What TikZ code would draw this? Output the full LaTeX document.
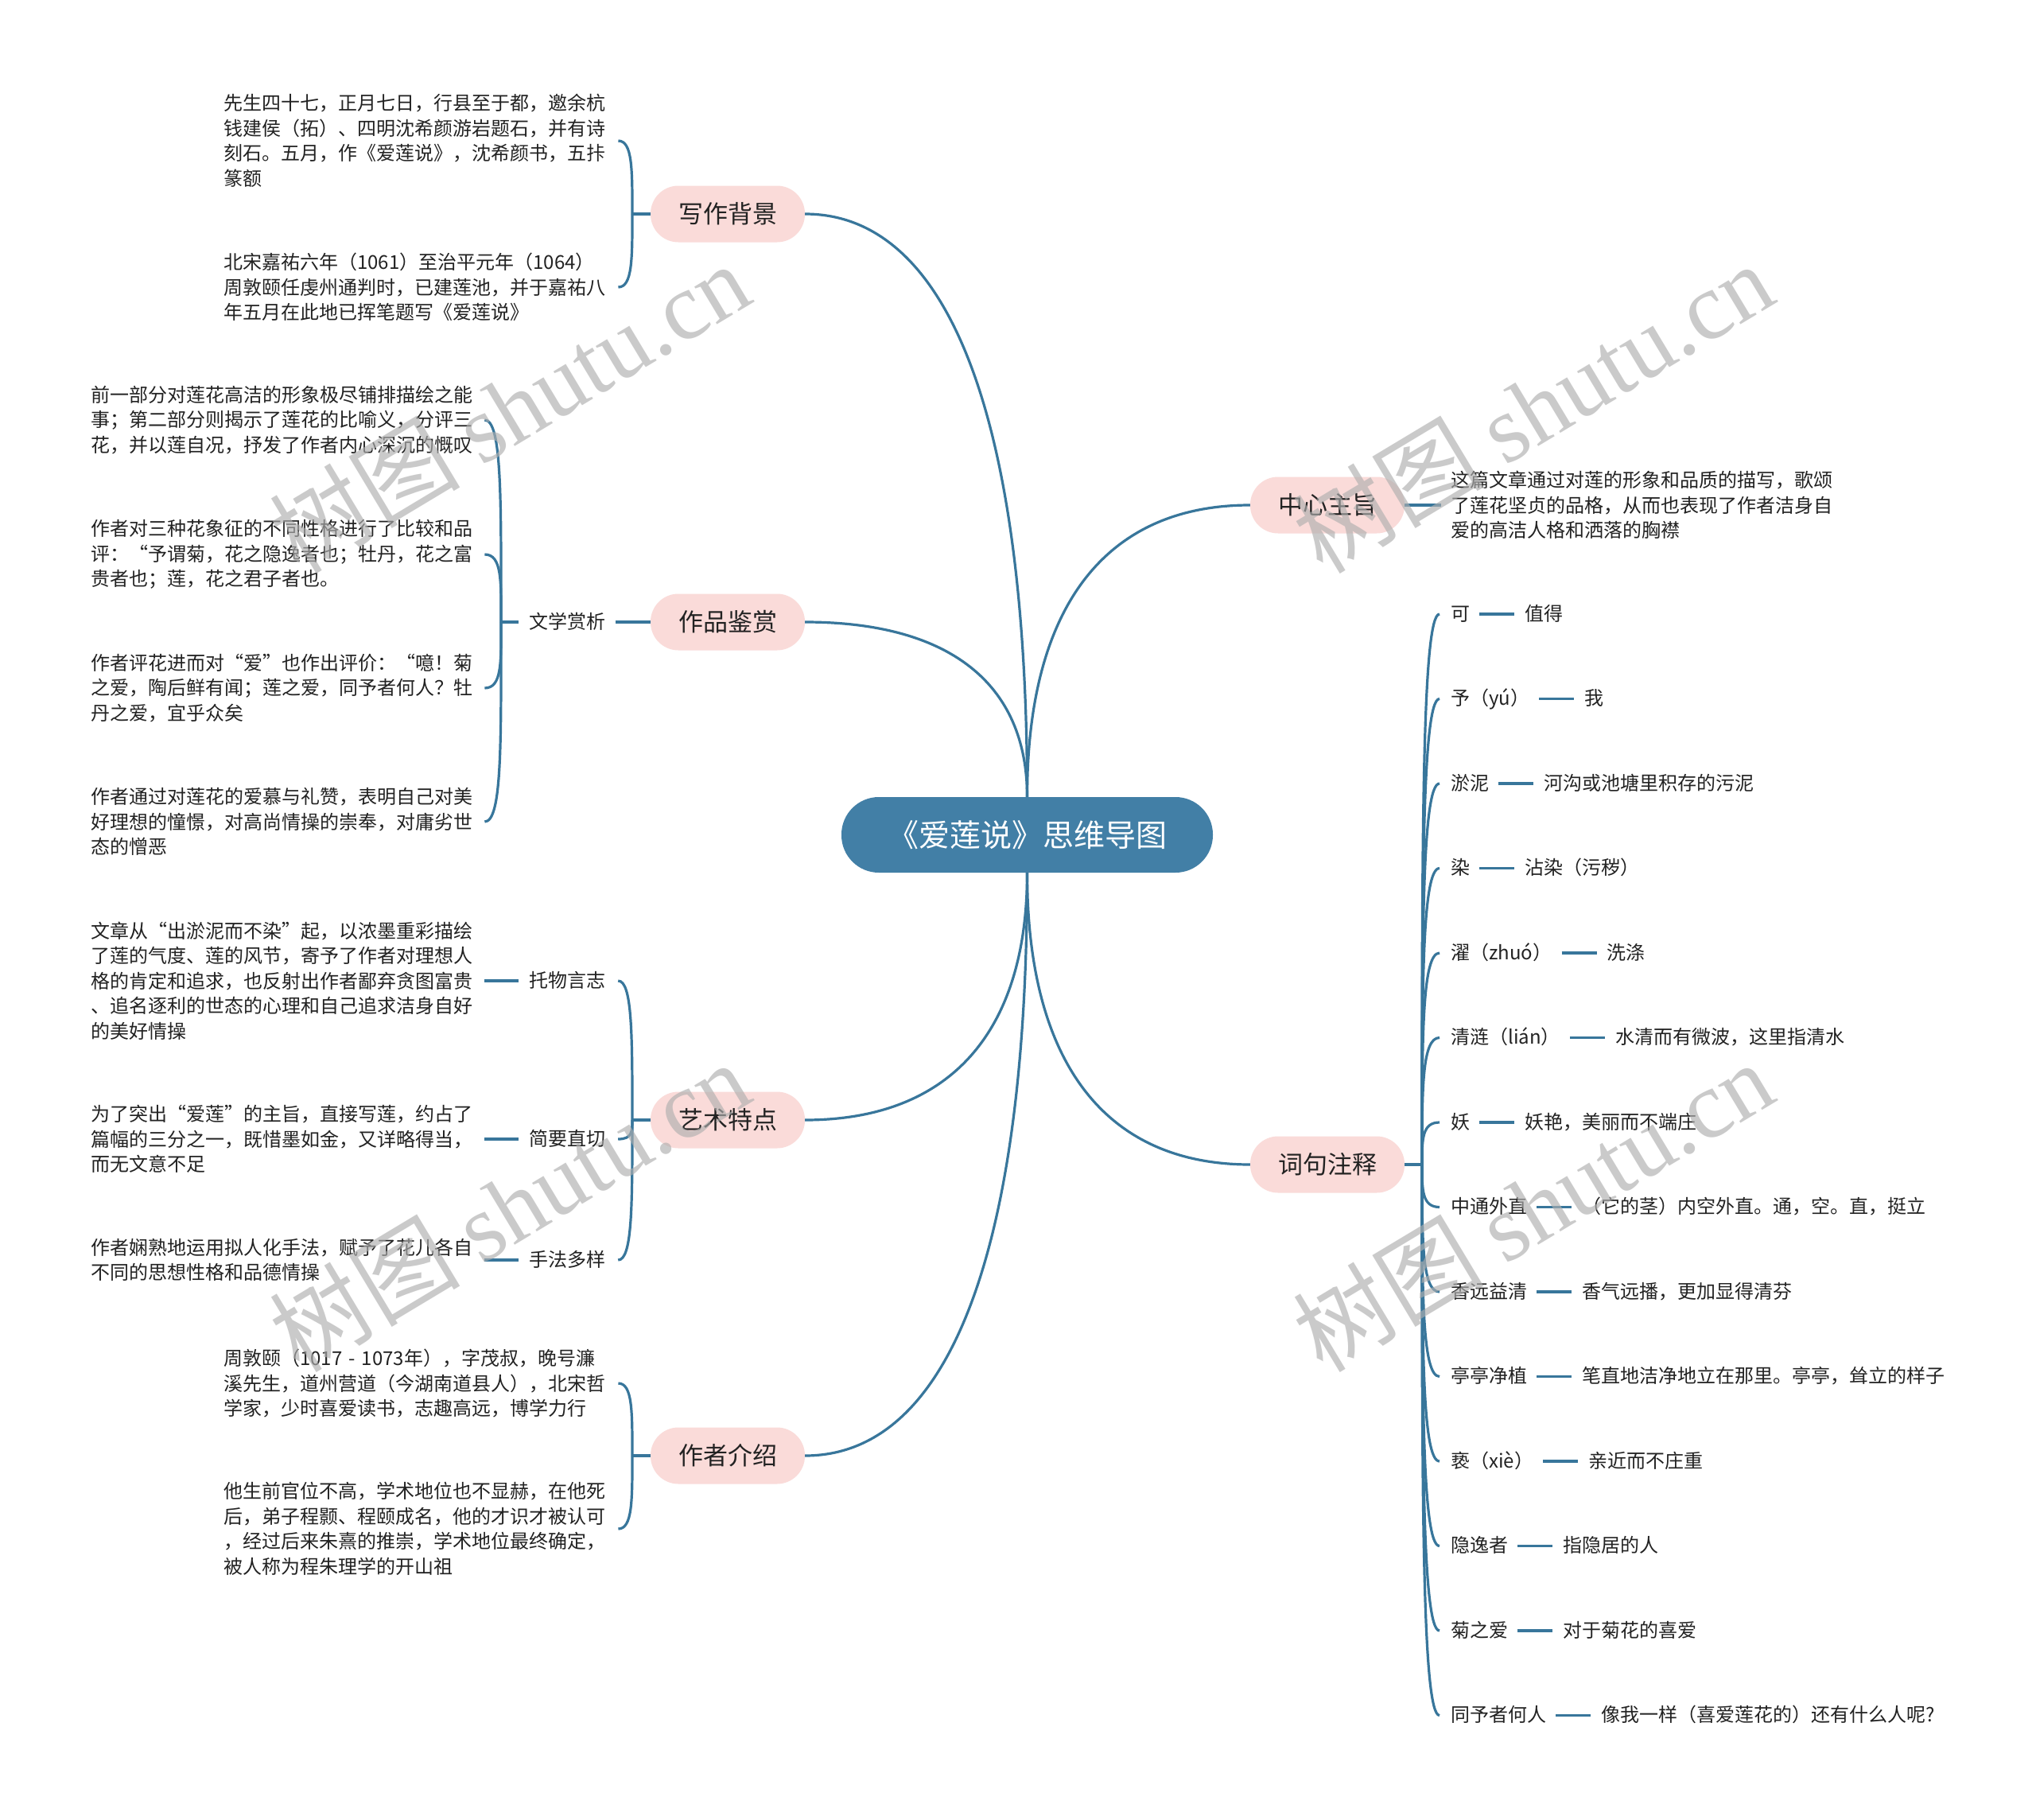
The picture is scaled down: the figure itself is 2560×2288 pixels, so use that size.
\documentclass[tikz,border=0pt]{standalone}
\usepackage{fontspec}
\setmainfont{Noto Sans CJK SC}
\newfontfamily\wmlatin{Liberation Serif}
\definecolor{lineblue}{RGB}{56,118,155}
\definecolor{rootblue}{RGB}{66,127,166}
\definecolor{pinkfill}{RGB}{250,219,217}
\definecolor{txt}{RGB}{34,34,34}
\definecolor{wmgray}{RGB}{175,175,175}
\begin{document}
\begin{tikzpicture}[x=1pt,y=-1pt,
  conn/.style={draw=lineblue,line width=3.2pt},
  mainnode/.style={fill=pinkfill,rounded corners=35pt,minimum width=194pt,minimum height=71pt,inner sep=0pt,text=txt,font=\fontsize{31}{31}\selectfont},
  rootnode/.style={fill=rootblue,rounded corners=47pt,minimum width=467pt,minimum height=95pt,inner sep=0pt,text=white,font=\fontsize{39}{39}\selectfont},
  blk/.style={anchor=west,align=left,text width=481pt,inner sep=0pt,text=txt,font=\fontsize{24}{31.5}\selectfont},
  lbl/.style={inner sep=0pt,text height=20pt,text depth=4pt,text=txt,font=\fontsize{24}{24}\selectfont},
  wm/.style={rotate=31,text=wmgray,opacity=0.65,inner sep=0pt,font=\fontsize{120}{120}\selectfont}
]
\fill[white] (0,0) rectangle (2560,2288);
\useasboundingbox (0,0) rectangle (2560,2288);

% root and main branches
\node[rootnode] (root) at (1291.5,1049.5) {《爱莲说》思维导图};
\node[mainnode] (w1) at (915,269) {写作背景};
\node[mainnode] (w2) at (915,782) {作品鉴赏};
\node[mainnode] (w3) at (915,1408) {艺术特点};
\node[mainnode] (w4) at (915,1830) {作者介绍};
\node[mainnode] (w5) at (1669,635) {中心主旨};
\node[mainnode] (w6) at (1669,1464) {词句注释};

\draw[conn] (root.north) .. controls +(0,-476) and +(181,0) .. (w1.east);
\draw[conn] (root.north) .. controls +(0,-143) and +(181,0) .. (w2.east);
\draw[conn] (root.north) .. controls +(0,-239) and +(-182,0) .. (w5.west);
\draw[conn] (root.south) .. controls +(0,202) and +(181,0) .. (w3.east);
\draw[conn] (root.south) .. controls +(0,476) and +(181,0) .. (w4.east);
\draw[conn] (root.south) .. controls +(0,239) and +(-182,0) .. (w6.west);

% 写作背景
\coordinate (j1) at (795,269);
\node[blk] (b11) at (281,177) {先生四十七，正月七日，行县至于都，邀余杭\\钱建侯（拓）、四明沈希颜游岩题石，并有诗\\刻石。五月，作《爱莲说》，沈希颜书，五拤\\篆额};
\node[blk] (b12) at (281,361) {北宋嘉祐六年（1061）至治平元年（1064）\\周敦颐任虔州通判时，已建莲池，并于嘉祐八\\年五月在此地已挥笔题写《爱莲说》};
\draw[conn] (w1.west) -- (j1);
\draw[conn] (j1) .. controls +(0,-55) and +(18,0) .. ([xshift=15pt]b11.east);
\draw[conn] (j1) .. controls +(0,55) and +(18,0) .. ([xshift=15pt]b12.east);

% 作品鉴赏
\node[lbl] (l2) at (713,782) {文学赏析};
\coordinate (j2) at (630,782);
\node[blk] (b21) at (114,528) {前一部分对莲花高洁的形象极尽铺排描绘之能\\事；第二部分则揭示了莲花的比喻义，分评三\\花，并以莲自况，抒发了作者内心深沉的慨叹};
\node[blk] (b22) at (114,697) {作者对三种花象征的不同性格进行了比较和品\\评：“予谓菊，花之隐逸者也；牡丹，花之富\\贵者也；莲，花之君子者也。};
\node[blk] (b23) at (114,865) {作者评花进而对“爱”也作出评价：“噫！菊\\之爱，陶后鲜有闻；莲之爱，同予者何人？牡\\丹之爱，宜乎众矣};
\node[blk] (b24) at (114,1033) {作者通过对莲花的爱慕与礼赞，表明自己对美\\好理想的憧憬，对高尚情操的崇奉，对庸劣世\\态的憎恶};
\draw[conn] (w2.west) -- ([xshift=13pt]l2.east);
\draw[conn] ([xshift=-13pt]l2.west) -- (j2);
\draw[conn] (j2) .. controls +(0,-152) and +(22,0) .. ([xshift=14pt]b21.east);
\draw[conn] (j2) .. controls +(0,-51) and +(22,0) .. ([xshift=14pt]b22.east);
\draw[conn] (j2) .. controls +(0,50) and +(22,0) .. ([xshift=14pt]b23.east);
\draw[conn] (j2) .. controls +(0,151) and +(22,0) .. ([xshift=14pt]b24.east);

% 艺术特点
\coordinate (j3) at (795,1408);
\node[lbl] (l31) at (713,1233) {托物言志};
\node[lbl] (l32) at (713,1432) {简要直切};
\node[lbl] (l33) at (713,1584) {手法多样};
\node[blk] (b31) at (114,1233) {文章从“出淤泥而不染”起，以浓墨重彩描绘\\了莲的气度、莲的风节，寄予了作者对理想人\\格的肯定和追求，也反射出作者鄙弃贪图富贵\\、追名逐利的世态的心理和自己追求洁身自好\\的美好情操};
\node[blk] (b32) at (114,1432) {为了突出“爱莲”的主旨，直接写莲，约占了\\篇幅的三分之一，既惜墨如金，又详略得当，\\而无文意不足};
\node[blk] (b33) at (114,1584) {作者娴熟地运用拟人化手法，赋予了花儿各自\\不同的思想性格和品德情操};
\draw[conn] (w3.west) -- (j3);
\draw[conn] (j3) .. controls +(0,-105) and +(18,0) .. ([xshift=16pt]l31.east);
\draw[conn] (j3) .. controls +(0,14) and +(18,0) .. ([xshift=16pt]l32.east);
\draw[conn] (j3) .. controls +(0,106) and +(18,0) .. ([xshift=16pt]l33.east);
\draw[conn] ([xshift=14pt]b31.east) -- ([xshift=-13pt]l31.west);
\draw[conn] ([xshift=14pt]b32.east) -- ([xshift=-13pt]l32.west);
\draw[conn] ([xshift=14pt]b33.east) -- ([xshift=-13pt]l33.west);

% 作者介绍
\coordinate (j4) at (795,1830);
\node[blk] (b41) at (281,1739) {周敦颐（1017 - 1073年），字茂叔，晚号濂\\溪先生，道州营道（今湖南道县人），北宋哲\\学家，少时喜爱读书，志趣高远，博学力行};
\node[blk] (b42) at (281,1922) {他生前官位不高，学术地位也不显赫，在他死\\后，弟子程颢、程颐成名，他的才识才被认可\\，经过后来朱熹的推崇，学术地位最终确定，\\被人称为程朱理学的开山祖};
\draw[conn] (w4.west) -- (j4);
\draw[conn] (j4) .. controls +(0,-55) and +(18,0) .. ([xshift=15pt]b41.east);
\draw[conn] (j4) .. controls +(0,55) and +(18,0) .. ([xshift=15pt]b42.east);

% 中心主旨
\node[blk] (b5) at (1824,635) {这篇文章通过对莲的形象和品质的描写，歌颂\\了莲花坚贞的品格，从而也表现了作者洁身自\\爱的高洁人格和洒落的胸襟};
\draw[conn] (w5.east) -- ([xshift=-12pt]b5.west);

% 词句注释
\coordinate (j6) at (1788,1464);
\draw[conn] (w6.east) -- (j6);
\foreach \i/\a/\b in {0/{可}/{值得},1/{予（yú）}/{我},2/{淤泥}/{河沟或池塘里积存的污泥},3/{染}/{沾染（污秽）},4/{濯（zhuó）}/{洗涤},5/{清涟（lián）}/{水清而有微波，这里指清水},6/{妖}/{妖艳，美丽而不端庄},7/{中通外直}/{（它的茎）内空外直。通，空。直，挺立},8/{香远益清}/{香气远播，更加显得清芬},9/{亭亭净植}/{笔直地洁净地立在那里。亭亭，耸立的样子},10/{亵（xiè）}/{亲近而不庄重},11/{隐逸者}/{指隐居的人},12/{菊之爱}/{对于菊花的喜爱},13/{同予者何人}/{像我一样（喜爱莲花的）还有什么人呢?}}{
  \pgfmathsetmacro\yy{772+106.5*\i}
  \pgfmathsetmacro\cc{0.6*(\yy-1464)}
  \node[lbl,anchor=west] (k\i) at (1824,\yy) {\a};
  \node[lbl,anchor=west] (m\i) at ([xshift=69pt]k\i.east) {\b};
  \draw[conn] ([xshift=12pt]k\i.east) -- ([xshift=-13pt]m\i.west);
  \draw[conn] (j6) .. controls +(0,\cc) and +(-22,0) .. ([xshift=-14pt]k\i.west);
}

% watermarks
\node[wm] (wm1) at (640,512) {树图 {\wmlatin shutu.cn}};
\node[wm] (wm2) at (1927,512) {树图 {\wmlatin shutu.cn}};
\node[wm] (wm3) at (640,1516) {树图 {\wmlatin shutu.cn}};
\node[wm] (wm4) at (1927,1516) {树图 {\wmlatin shutu.cn}};
\end{tikzpicture}
\end{document}
